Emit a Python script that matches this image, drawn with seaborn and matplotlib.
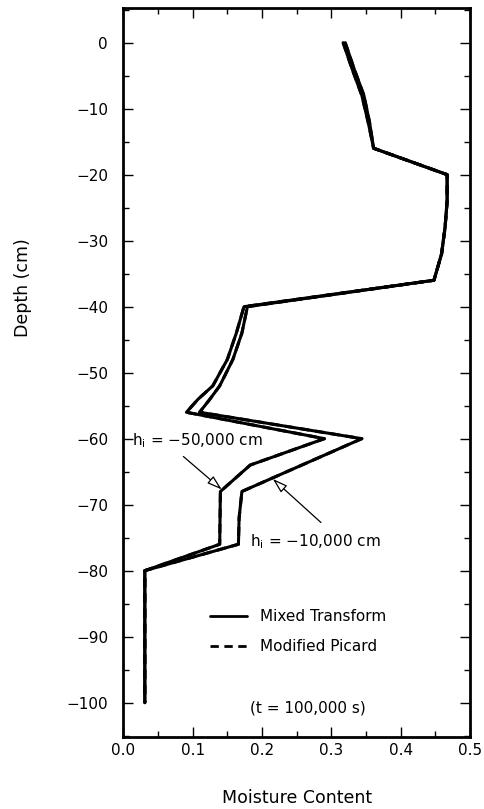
import matplotlib
matplotlib.use('Agg')
import matplotlib.pyplot as plt
import numpy as np
import pandas as pd
import seaborn as sns
from matplotlib.ticker import MultipleLocator
from matplotlib.lines import Line2D

# ---- data ----
depth_50k = [0, -4, -8, -12, -16, -20, -24, -28, -32, -36, -40, -44, -48, -52, -54, -56, -60, -64, -68, -76, -80, -100]
theta_50k = [0.317, 0.330, 0.344, 0.353, 0.361, 0.467, 0.467, 0.464, 0.459, 0.448, 0.174, 0.163, 0.150, 0.129,
             0.108, 0.091, 0.290, 0.183, 0.140, 0.139, 0.031, 0.031]

depth_10k = [0, -4, -8, -12, -16, -20, -24, -28, -32, -36, -40, -44, -48, -52, -54, -56, -60, -68, -72, -76, -80, -100]
theta_10k = [0.320, 0.333, 0.347, 0.355, 0.361, 0.467, 0.467, 0.464, 0.459, 0.448, 0.179, 0.171, 0.158, 0.139,
             0.125, 0.110, 0.344, 0.171, 0.167, 0.166, 0.031, 0.031]

methods = ['Mixed Transform', 'Modified Picard']
cases = ['-50,000', '-10,000']
x_ticks = [0.0, 0.1, 0.2, 0.3, 0.4, 0.5]
y_ticks = [0, -10, -20, -30, -40, -50, -60, -70, -80, -90, -100]

rows = []
for m in methods:
    for c, d, t in ((cases[0], depth_50k, theta_50k), (cases[1], depth_10k, theta_10k)):
        for dd, tt in zip(d, t):
            rows.append({'theta': tt, 'depth': dd, 'case': c, 'method': m})
df = pd.DataFrame(rows)

sns.set_style('ticks')
plt.rcParams['font.family'] = ['DejaVu Sans']
plt.rcParams['mathtext.fontset'] = 'dejavusans'
plt.rcParams['text.color'] = 'black'
plt.rcParams['axes.labelcolor'] = 'black'
plt.rcParams['xtick.color'] = 'black'
plt.rcParams['ytick.color'] = 'black'

fig = plt.figure(figsize=(4.84, 8.09), dpi=100)
ax = fig.add_axes([0.2548, 0.0886, 0.7163, 0.9015])

sns.lineplot(data=df, x='theta', y='depth', units='case', style='method',
             dashes={'Mixed Transform': '', 'Modified Picard': (3, 2)},
             estimator=None, sort=False, color='black', linewidth=2.2,
             legend=False, ax=ax)

ax.set_xlim(0, 0.5)
ax.set_ylim(-105.25, 5.25)
ax.set_xticks(x_ticks)
ax.set_xticklabels([f'{v:.1f}' for v in x_ticks])
ax.set_yticks(y_ticks)
ax.set_yticklabels([str(v).replace('-', '\u2212') for v in y_ticks])
ax.xaxis.set_minor_locator(MultipleLocator(0.05))
ax.yaxis.set_minor_locator(MultipleLocator(5))
ax.tick_params(which='both', direction='in', top=True, right=True, color='black', width=1.0)
ax.tick_params(which='major', length=7)
ax.tick_params(which='minor', length=4)
ax.tick_params(axis='x', which='major', pad=4, labelsize=11, labelcolor='black')
ax.tick_params(axis='y', which='major', pad=11, labelsize=11, labelcolor='black')
for s in ax.spines.values():
    s.set_linewidth(2.0)
    s.set_color('black')

ax.set_xlabel('Moisture Content', fontsize=12.5, color='black')
ax.set_ylabel('Depth (cm)', fontsize=12.5, color='black')
ax.xaxis.set_label_coords(0.5, -0.071)
ax.yaxis.set_label_coords(-0.263, 0.617)

handles = [Line2D([], [], color='black', lw=2.0, ls='-'),
           Line2D([], [], color='black', lw=2.0, ls=(0, (3, 2)))]
leg = ax.legend(handles, methods, loc='center left', bbox_to_anchor=(0.25, 0.145),
                frameon=False, fontsize=11, handlelength=2.4, handletextpad=0.85,
                labelspacing=1.0, borderpad=0, borderaxespad=0)
for t in leg.get_texts():
    t.set_color('black')

ax.text(0.533, 0.040, '(t = 100,000 s)', transform=ax.transAxes,
        ha='center', va='center', fontsize=11, color='black')

ax.text(0.0125, -60.3, 'h$_\\mathregular{i}$ = \u221250,000 cm', ha='left', va='center',
        fontsize=11, color='black')
ax.text(0.183, -75.6, 'h$_\\mathregular{i}$ = \u221210,000 cm', ha='left', va='center',
        fontsize=11, color='black')

arrow = dict(arrowstyle='-|>,head_length=0.9,head_width=0.28', fc='white', ec='black',
             lw=0.9, shrinkA=0, shrinkB=0, mutation_scale=10)
ax.annotate('', xy=(0.142, -67.7), xytext=(0.0866, -62.7), arrowprops=arrow)
ax.annotate('', xy=(0.2156, -66.1), xytext=(0.285, -72.7), arrowprops=arrow)

fig.savefig('out.png', dpi=100)
